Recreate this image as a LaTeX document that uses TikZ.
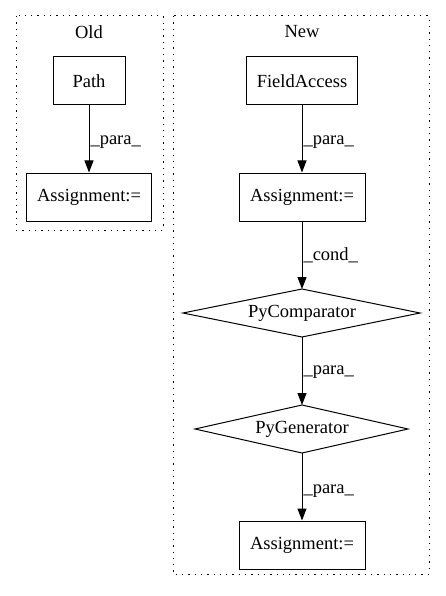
\documentclass[tikz,border=0pt]{standalone}
\usepackage{fontspec}
\setmainfont{Liberation Serif}
\usetikzlibrary{arrows.meta,shapes.geometric}
\begin{document}
\begin{tikzpicture}[x=1pt,y=-1pt,
  font=\fontsize{18.5}{21}\selectfont,
  cluster/.style={draw, line width=1pt, dash pattern=on 1.3pt off 5pt},
  box/.style={draw, line width=1pt, rectangle, inner sep=0pt, minimum height=48pt},
  shapeline/.style={line width=1pt},
  edge/.style={draw, line width=1pt, -{Triangle[length=12pt,width=9pt]}},
  elabel/.style={anchor=west, inner sep=0pt}]
\useasboundingbox (0,0) rectangle (445,596);
\draw[cluster] (16,16) rectangle (163,230);
\draw[cluster] (173,16) rectangle (429,574);
\node (oldlbl) at (89,32) {Old};
\node (newlbl) at (302,32) {New};
% Old
\node[box, minimum width=72pt] (path) at (89,81) {Path};
\node[box, minimum width=125pt] (oassign) at (89,197) {Assignment:=};
\draw[edge] (path) -- (oassign) node[elabel, pos=0.54, xshift=1pt] {\_para\_};
% New
\node[box, minimum width=111pt] (field) at (302,81) {FieldAccess};
\node[box, minimum width=126pt] (nassign) at (302,197) {Assignment:=};
\draw[edge] (field) -- (nassign) node[elabel, pos=0.54, xshift=1pt] {\_para\_};
\node[inner sep=0pt] (pcmp) at (302,313) {PyComparator};
\draw[shapeline] (183,313) -- (302,289) -- (420,313) -- (302,337) -- cycle;
\coordinate (pcmptop) at (302,289);
\coordinate (pcmpbot) at (302,337);
\node[inner sep=0pt] (pgen) at (302,429) {PyGenerator};
\draw[shapeline] (195,429) -- (302,405) -- (408,429) -- (302,453) -- cycle;
\coordinate (pgentop) at (302,405);
\coordinate (pgenbot) at (302,453);
\draw[edge] (nassign) -- (pcmptop) node[elabel, pos=0.5, xshift=1pt] {\_cond\_};
\draw[edge] (pcmpbot) -- (pgentop) node[elabel, pos=0.51, xshift=1pt] {\_para\_};
\node[box, minimum width=126pt] (lassign) at (302,545) {Assignment:=};
\draw[edge] (pgenbot) -- (lassign) node[elabel, pos=0.56, xshift=1pt] {\_para\_};
\end{tikzpicture}
\end{document}
